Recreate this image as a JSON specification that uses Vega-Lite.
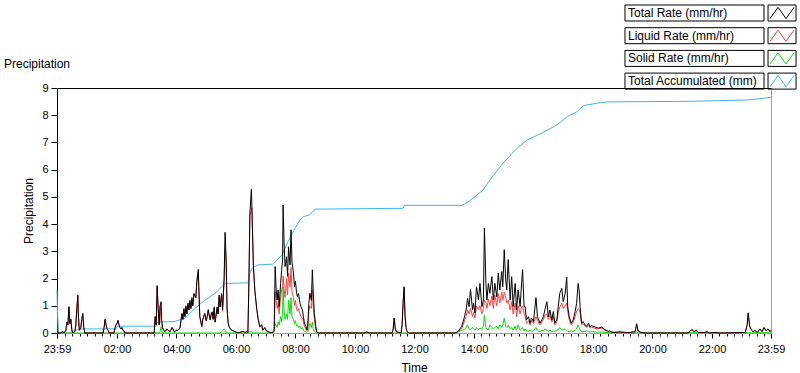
{
 "$schema": "https://vega.github.io/schema/vega-lite/v6.json",
 "width": 714, "height": 245,
 "autosize": {"type": "none"},
 "padding": {"left": 57, "top": 88, "right": 29, "bottom": 40},
 "background": "white",
 "config": {
  "font": "Liberation Sans",
  "view": {"stroke": "#a0a0a0", "strokeWidth": 1},
  "axis": {"grid": false, "labelFont": "Liberation Sans", "titleFont": "Liberation Sans", "labelFontSize": 11, "titleFontSize": 12, "titleFontWeight": "normal", "labelColor": "#000", "titleColor": "#000", "tickColor": "#000", "domainColor": "#000"},
  "legend": {"labelFont": "Liberation Sans", "labelFontSize": 12, "labelColor": "#000"}
 },
 "title": {"text": "Precipitation", "anchor": "start", "frame": "group", "dx": -53, "offset": -66, "fontSize": 12, "fontWeight": "normal", "font": "Liberation Sans", "color": "#000"},
 "datasets": {
  "acc": [
   {"min":0,"acc":1.58},{"min":1,"acc":0.75},{"min":3,"acc":0},{"min":26,"acc":0},{"min":30,"acc":0.05},{"min":43,"acc":0.13},{"min":48,"acc":0.15},{"min":119,"acc":0.15},{"min":121,"acc":0.25},{"min":200,"acc":0.25},{"min":202,"acc":0.4},{"min":236,"acc":0.42},{"min":242,"acc":0.45},{"min":258,"acc":0.54},{"min":278,"acc":0.9},{"min":298,"acc":1.2},{"min":319,"acc":1.46},{"min":339,"acc":1.82},{"min":385,"acc":1.84},{"min":389,"acc":2.2},{"min":393,"acc":2.38},{"min":405,"acc":2.5},{"min":436,"acc":2.53},{"min":454,"acc":2.87},{"min":466,"acc":3.36},{"min":480,"acc":3.85},{"min":490,"acc":4.15},{"min":496,"acc":4.27},{"min":510,"acc":4.34},{"min":520,"acc":4.55},{"min":698,"acc":4.58},{"min":700,"acc":4.69},{"min":817,"acc":4.69},{"min":833,"acc":4.86},{"min":859,"acc":5.25},{"min":873,"acc":5.62},{"min":899,"acc":6.23},{"min":928,"acc":6.79},{"min":948,"acc":7.09},{"min":974,"acc":7.31},{"min":1008,"acc":7.64},{"min":1029,"acc":7.95},{"min":1049,"acc":8.13},{"min":1061,"acc":8.35},{"min":1089,"acc":8.44},{"min":1109,"acc":8.49},{"min":1277,"acc":8.51},{"min":1392,"acc":8.56},{"min":1424,"acc":8.62},{"min":1440,"acc":8.66}
  ],
  "rates": [
   {"min":0,"total":0,"liquid":0,"solid":0},{"min":6,"total":0,"liquid":0,"solid":0},{"min":12,"total":0.05,"liquid":0.05,"solid":0},{"min":14,"total":0,"liquid":0,"solid":0},{"min":18,"total":0.1,"liquid":0.1,"solid":0},{"min":20,"total":0.4,"liquid":0.4,"solid":0},{"min":22,"total":0.3,"liquid":0.3,"solid":0},{"min":24,"total":0.97,"liquid":0.95,"solid":0},{"min":26,"total":0.35,"liquid":0.35,"solid":0},{"min":28,"total":0.5,"liquid":0.5,"solid":0},{"min":30,"total":0.1,"liquid":0.1,"solid":0},{"min":32,"total":0,"liquid":0,"solid":0},{"min":36,"total":0.05,"liquid":0.05,"solid":0},{"min":38,"total":0.3,"liquid":0.3,"solid":0},{"min":40,"total":0.9,"liquid":0.9,"solid":0},{"min":42,"total":1.4,"liquid":1.35,"solid":0.02},{"min":43,"total":0.7,"liquid":0.7,"solid":0},{"min":45,"total":0.1,"liquid":0.1,"solid":0},{"min":48,"total":0.2,"liquid":0.2,"solid":0},{"min":50,"total":0.5,"liquid":0.5,"solid":0},{"min":52,"total":0.72,"liquid":0.7,"solid":0},{"min":54,"total":0.2,"liquid":0.2,"solid":0},{"min":56,"total":0,"liquid":0,"solid":0},
   {"min":93,"total":0,"liquid":0,"solid":0},{"min":95,"total":0.2,"liquid":0.2,"solid":0},{"min":97,"total":0.5,"liquid":0.5,"solid":0},{"min":99,"total":0.3,"liquid":0.3,"solid":0},{"min":101,"total":0.15,"liquid":0.15,"solid":0},{"min":103,"total":0.1,"liquid":0.1,"solid":0},{"min":105,"total":0,"liquid":0,"solid":0},{"min":115,"total":0,"liquid":0,"solid":0},{"min":117,"total":0.2,"liquid":0.2,"solid":0},{"min":119,"total":0.3,"liquid":0.3,"solid":0},{"min":121,"total":0.35,"liquid":0.35,"solid":0},{"min":123,"total":0.47,"liquid":0.45,"solid":0},{"min":125,"total":0.3,"liquid":0.3,"solid":0},{"min":127,"total":0.2,"liquid":0.2,"solid":0},{"min":129,"total":0.15,"liquid":0.15,"solid":0},{"min":131,"total":0.2,"liquid":0.2,"solid":0},{"min":133,"total":0.1,"liquid":0.1,"solid":0},{"min":135,"total":0.08,"liquid":0.08,"solid":0},{"min":137,"total":0,"liquid":0,"solid":0},
   {"min":196,"total":0,"liquid":0,"solid":0},{"min":198,"total":0.6,"liquid":0.6,"solid":0},{"min":200,"total":0.3,"liquid":0.3,"solid":0},{"min":202,"total":1.74,"liquid":1.7,"solid":0.02},{"min":204,"total":0.9,"liquid":0.9,"solid":0},{"min":206,"total":0.3,"liquid":0.3,"solid":0},{"min":208,"total":1.0,"liquid":1.0,"solid":0.05},{"min":210,"total":1.15,"liquid":0.4,"solid":0.23},{"min":211,"total":0.5,"liquid":0.35,"solid":0.1},{"min":213,"total":0.2,"liquid":0.2,"solid":0},{"min":215,"total":0.1,"liquid":0.1,"solid":0},{"min":218,"total":0.05,"liquid":0.05,"solid":0},{"min":222,"total":0.15,"liquid":0.15,"solid":0},{"min":224,"total":0.1,"liquid":0.1,"solid":0},{"min":228,"total":0.05,"liquid":0.05,"solid":0},{"min":232,"total":0.2,"liquid":0.2,"solid":0},{"min":234,"total":0.15,"liquid":0.15,"solid":0},{"min":236,"total":0.05,"liquid":0.05,"solid":0},
   {"min":238,"total":0.05,"liquid":0.05,"solid":0},{"min":240,"total":0.1,"liquid":0.1,"solid":0},{"min":244,"total":0.1,"liquid":0.1,"solid":0},{"min":248,"total":0.18,"liquid":0.18,"solid":0},{"min":250,"total":0.45,"liquid":0.45,"solid":0},{"min":252,"total":0.72,"liquid":0.7,"solid":0},{"min":254,"total":0.5,"liquid":0.5,"solid":0},{"min":256,"total":0.9,"liquid":0.85,"solid":0},{"min":258,"total":0.6,"liquid":0.6,"solid":0},{"min":260,"total":1.0,"liquid":0.95,"solid":0},{"min":262,"total":0.7,"liquid":0.7,"solid":0},{"min":264,"total":1.1,"liquid":1.05,"solid":0},{"min":266,"total":0.85,"liquid":0.85,"solid":0},{"min":268,"total":1.2,"liquid":1.15,"solid":0},{"min":270,"total":0.9,"liquid":0.9,"solid":0},{"min":272,"total":1.3,"liquid":1.25,"solid":0},{"min":274,"total":1.0,"liquid":1.0,"solid":0},{"min":276,"total":1.45,"liquid":1.4,"solid":0},{"min":280,"total":1.3,"liquid":1.3,"solid":0},{"min":282,"total":1.9,"liquid":1.85,"solid":0},{"min":285,"total":2.34,"liquid":2.2,"solid":0.02},{"min":286,"total":1.7,"liquid":1.65,"solid":0},{"min":288,"total":0.6,"liquid":0.6,"solid":0},{"min":292,"total":0.24,"liquid":0.24,"solid":0},{"min":294,"total":0.5,"liquid":0.5,"solid":0},{"min":298,"total":0.72,"liquid":0.7,"solid":0},{"min":301,"total":0.45,"liquid":0.45,"solid":0},{"min":303,"total":0.6,"liquid":0.6,"solid":0},{"min":305,"total":0.86,"liquid":0.8,"solid":0},{"min":309,"total":0.48,"liquid":0.48,"solid":0},{"min":311,"total":0.7,"liquid":0.7,"solid":0},{"min":313,"total":0.78,"liquid":0.75,"solid":0},{"min":315,"total":0.5,"liquid":0.5,"solid":0},{"min":317,"total":0.96,"liquid":0.9,"solid":0},{"min":319,"total":0.4,"liquid":0.4,"solid":0},{"min":323,"total":0.96,"liquid":0.9,"solid":0},{"min":325,"total":0.7,"liquid":0.7,"solid":0},{"min":327,"total":1.39,"liquid":1.3,"solid":0},{"min":329,"total":0.96,"liquid":0.95,"solid":0},{"min":332,"total":1.45,"liquid":1.4,"solid":0.05},{"min":334,"total":0.86,"liquid":0.8,"solid":0.1},{"min":337,"total":2.0,"liquid":1.9,"solid":0.15},{"min":339,"total":3.7,"liquid":3.1,"solid":0.1},{"min":341,"total":2.8,"liquid":2.7,"solid":0.05},{"min":343,"total":0.9,"liquid":0.9,"solid":0},{"min":345,"total":0.4,"liquid":0.4,"solid":0},{"min":347,"total":0.23,"liquid":0.23,"solid":0},{"min":351,"total":0.12,"liquid":0.12,"solid":0},{"min":355,"total":0.08,"liquid":0.08,"solid":0},{"min":359,"total":0.05,"liquid":0.05,"solid":0},{"min":363,"total":0.02,"liquid":0.02,"solid":0},{"min":369,"total":0.02,"liquid":0.02,"solid":0},{"min":375,"total":0.06,"liquid":0.06,"solid":0},{"min":379,"total":0.02,"liquid":0.02,"solid":0},{"min":383,"total":0.05,"liquid":0.05,"solid":0},{"min":385,"total":0.02,"liquid":0.02,"solid":0.02},{"min":387,"total":1.8,"liquid":1.8,"solid":0.03},{"min":389,"total":4.4,"liquid":4.3,"solid":0.05},{"min":392,"total":5.28,"liquid":4.5,"solid":0.05},{"min":393,"total":4.7,"liquid":4.6,"solid":0.03},{"min":396,"total":2.5,"liquid":2.5,"solid":0},{"min":399,"total":1.56,"liquid":1.56,"solid":0},{"min":403,"total":0.86,"liquid":0.86,"solid":0},{"min":406,"total":0.48,"liquid":0.48,"solid":0},{"min":409,"total":0.23,"liquid":0.23,"solid":0},{"min":413,"total":0.3,"liquid":0.3,"solid":0},{"min":415,"total":0.1,"liquid":0.1,"solid":0},{"min":419,"total":0.2,"liquid":0.2,"solid":0},{"min":422,"total":0.08,"liquid":0.08,"solid":0},{"min":426,"total":0.05,"liquid":0.05,"solid":0},{"min":430,"total":0.02,"liquid":0.02,"solid":0},{"min":434,"total":0.02,"liquid":0.02,"solid":0},
   {"min":436,"total":0.05,"liquid":0.05,"solid":0},{"min":438,"total":0.1,"liquid":0.05,"solid":0.05},{"min":440,"total":2.44,"liquid":1.5,"solid":0.35},{"min":442,"total":1.58,"liquid":1.2,"solid":0.25},{"min":444,"total":1.21,"liquid":0.9,"solid":0.2},{"min":446,"total":1.58,"liquid":1.1,"solid":0.4},{"min":448,"total":0.97,"liquid":0.7,"solid":0.3},{"min":451,"total":1.82,"liquid":1.3,"solid":0.6},{"min":453,"total":2.3,"liquid":1.6,"solid":0.4},{"min":455,"total":2.68,"liquid":1.7,"solid":0.9},{"min":456,"total":4.7,"liquid":2.1,"solid":1.7},{"min":458,"total":3.3,"liquid":1.6,"solid":0.8},{"min":460,"total":2.44,"liquid":1.3,"solid":0.5},{"min":463,"total":2.8,"liquid":2.0,"solid":0.7},{"min":465,"total":2.08,"liquid":1.4,"solid":0.5},{"min":467,"total":3.17,"liquid":2.2,"solid":1.2},{"min":470,"total":2.5,"liquid":1.7,"solid":0.7},{"min":472,"total":3.79,"liquid":2.4,"solid":1.3},{"min":474,"total":2.6,"liquid":1.5,"solid":0.6},{"min":477,"total":2.2,"liquid":1.3,"solid":0.5},{"min":479,"total":1.7,"liquid":1.0,"solid":0.35},{"min":481,"total":1.9,"liquid":1.2,"solid":0.45},{"min":483,"total":1.5,"liquid":0.9,"solid":0.25},{"min":485,"total":1.33,"liquid":0.8,"solid":0.3},{"min":487,"total":1.45,"liquid":0.9,"solid":0.2},{"min":490,"total":1.1,"liquid":0.7,"solid":0.25},{"min":492,"total":0.97,"liquid":0.6,"solid":0.15},{"min":495,"total":0.85,"liquid":0.55,"solid":0.2},{"min":497,"total":0.6,"liquid":0.4,"solid":0.1},{"min":499,"total":0.36,"liquid":0.25,"solid":0.05},{"min":502,"total":0.24,"liquid":0.15,"solid":0.05},{"min":504,"total":0.12,"liquid":0.08,"solid":0.02},{"min":506,"total":0.36,"liquid":0.25,"solid":0.05},{"min":508,"total":1.09,"liquid":0.8,"solid":0.2},{"min":510,"total":1.46,"liquid":1.0,"solid":0.35},{"min":513,"total":1.2,"liquid":0.9,"solid":0.2},{"min":515,"total":2.32,"liquid":1.6,"solid":0.4},{"min":517,"total":1.4,"liquid":0.9,"solid":0.15},{"min":519,"total":0.72,"liquid":0.5,"solid":0.05},{"min":522,"total":0.24,"liquid":0.15,"solid":0.02},{"min":524,"total":0.05,"liquid":0.03,"solid":0},{"min":526,"total":0,"liquid":0,"solid":0},
   {"min":620,"total":0,"liquid":0,"solid":0},{"min":625,"total":0.04,"liquid":0.04,"solid":0},{"min":629,"total":0,"liquid":0,"solid":0},{"min":676,"total":0,"liquid":0,"solid":0},{"min":678,"total":0.15,"liquid":0.15,"solid":0},{"min":680,"total":0.55,"liquid":0.55,"solid":0},{"min":682,"total":0.2,"liquid":0.2,"solid":0},{"min":684,"total":0.05,"liquid":0.05,"solid":0},{"min":694,"total":0,"liquid":0,"solid":0},{"min":696,"total":0.3,"liquid":0.3,"solid":0},{"min":698,"total":1.1,"liquid":1.1,"solid":0},{"min":700,"total":1.7,"liquid":1.65,"solid":0},{"min":702,"total":0.6,"liquid":0.6,"solid":0},{"min":704,"total":0.2,"liquid":0.2,"solid":0},{"min":706,"total":0.05,"liquid":0.05,"solid":0},{"min":710,"total":0,"liquid":0,"solid":0},{"min":803,"total":0,"liquid":0,"solid":0},
   {"min":809,"total":0.06,"liquid":0.05,"solid":0.03},{"min":816,"total":0.24,"liquid":0.15,"solid":0.1},{"min":821,"total":0.54,"liquid":0.4,"solid":0.12},{"min":825,"total":0.85,"liquid":0.6,"solid":0.2},{"min":828,"total":1.27,"liquid":0.85,"solid":0.3},{"min":831,"total":0.97,"liquid":0.7,"solid":0.15},{"min":834,"total":1.6,"liquid":0.9,"solid":0.12},{"min":838,"total":0.85,"liquid":0.6,"solid":0.2},{"min":840,"total":1.09,"liquid":0.75,"solid":0.15},{"min":843,"total":0.73,"liquid":0.55,"solid":0.1},{"min":846,"total":1.7,"liquid":1.0,"solid":0.2},{"min":850,"total":1.21,"liquid":0.85,"solid":0.12},{"min":853,"total":1.82,"liquid":1.0,"solid":0.18},{"min":857,"total":0.97,"liquid":0.7,"solid":0.15},{"min":860,"total":1.21,"liquid":0.9,"solid":0.25},{"min":862,"total":3.86,"liquid":1.2,"solid":0.67},{"min":865,"total":1.82,"liquid":1.1,"solid":0.2},{"min":867,"total":1.21,"liquid":0.9,"solid":0.15},{"min":870,"total":1.82,"liquid":1.25,"solid":0.12},{"min":873,"total":1.46,"liquid":1.0,"solid":0.3},{"min":877,"total":2.07,"liquid":1.35,"solid":0.2},{"min":880,"total":1.21,"liquid":0.9,"solid":0.15},{"min":883,"total":1.82,"liquid":1.4,"solid":0.2},{"min":887,"total":1.33,"liquid":1.0,"solid":0.25},{"min":890,"total":2.2,"liquid":1.45,"solid":0.15},{"min":893,"total":1.58,"liquid":1.1,"solid":0.3},{"min":897,"total":2.26,"liquid":1.5,"solid":0.2},{"min":899,"total":1.7,"liquid":1.2,"solid":0.3},{"min":902,"total":3.06,"liquid":1.5,"solid":0.54},{"min":905,"total":1.95,"liquid":1.3,"solid":0.25},{"min":907,"total":1.58,"liquid":1.1,"solid":0.2},{"min":910,"total":2.7,"liquid":1.2,"solid":0.3},{"min":914,"total":1.21,"liquid":0.85,"solid":0.15},{"min":917,"total":2.07,"liquid":1.15,"solid":0.2},{"min":920,"total":0.97,"liquid":0.7,"solid":0.1},{"min":924,"total":1.82,"liquid":1.1,"solid":0.25},{"min":927,"total":0.85,"liquid":0.6,"solid":0.1},{"min":930,"total":1.58,"liquid":1.0,"solid":0.3},{"min":934,"total":0.97,"liquid":0.7,"solid":0.1},{"min":937,"total":1.82,"liquid":0.95,"solid":0.15},{"min":939,"total":2.33,"liquid":1.0,"solid":0.2},{"min":942,"total":0.97,"liquid":0.7,"solid":0.08},{"min":944,"total":0.97,"liquid":0.6,"solid":0.15},{"min":947,"total":0.48,"liquid":0.35,"solid":0.08},{"min":951,"total":0.6,"liquid":0.45,"solid":0.06},{"min":954,"total":0.36,"liquid":0.3,"solid":0.1},{"min":957,"total":0.55,"liquid":0.45,"solid":0.05},{"min":961,"total":0.42,"liquid":0.35,"solid":0.08},{"min":966,"total":1.3,"liquid":0.6,"solid":0.2},{"min":969,"total":0.6,"liquid":0.45,"solid":0.08},{"min":974,"total":0.36,"liquid":0.3,"solid":0.05},{"min":978,"total":0.48,"liquid":0.4,"solid":0.1},{"min":981,"total":0.6,"liquid":0.5,"solid":0.08},{"min":984,"total":0.85,"liquid":0.65,"solid":0.15},{"min":988,"total":1.15,"liquid":0.7,"solid":0.1},{"min":991,"total":0.6,"liquid":0.5,"solid":0.06},{"min":994,"total":0.85,"liquid":0.65,"solid":0.1},{"min":998,"total":0.48,"liquid":0.4,"solid":0.05},{"min":1001,"total":0.79,"liquid":0.6,"solid":0.08},{"min":1004,"total":0.36,"liquid":0.3,"solid":0.06},{"min":1008,"total":0.48,"liquid":0.4,"solid":0.1},{"min":1011,"total":0.97,"liquid":0.75,"solid":0.12},{"min":1014,"total":1.46,"liquid":0.95,"solid":0.2},{"min":1018,"total":1.64,"liquid":1.1,"solid":0.1},{"min":1021,"total":1.15,"liquid":0.9,"solid":0.12},{"min":1025,"total":1.46,"liquid":1.0,"solid":0.15},{"min":1028,"total":2.05,"liquid":1.1,"solid":0.1},{"min":1030,"total":0.97,"liquid":0.8,"solid":0.06},{"min":1033,"total":0.6,"liquid":0.5,"solid":0.05},{"min":1037,"total":0.36,"liquid":0.3,"solid":0.08},{"min":1041,"total":0.48,"liquid":0.4,"solid":0.05},{"min":1045,"total":0.79,"liquid":0.6,"solid":0.1},{"min":1048,"total":1.09,"liquid":0.8,"solid":0.15},{"min":1051,"total":1.82,"liquid":0.9,"solid":0.3},{"min":1053,"total":1.58,"liquid":0.85,"solid":0.2},{"min":1055,"total":0.97,"liquid":0.75,"solid":0.12},{"min":1058,"total":0.36,"liquid":0.3,"solid":0.05},{"min":1061,"total":0.42,"liquid":0.35,"solid":0.06},{"min":1065,"total":0.3,"liquid":0.25,"solid":0.05},{"min":1068,"total":0.24,"liquid":0.2,"solid":0.08},{"min":1072,"total":0.36,"liquid":0.28,"solid":0.06},{"min":1075,"total":0.22,"liquid":0.18,"solid":0.04},{"min":1078,"total":0.27,"liquid":0.22,"solid":0.05},{"min":1085,"total":0.22,"liquid":0.17,"solid":0.04},{"min":1092,"total":0.18,"liquid":0.15,"solid":0.03},{"min":1099,"total":0.22,"liquid":0.18,"solid":0.04},{"min":1105,"total":0.12,"liquid":0.1,"solid":0.02},{"min":1112,"total":0.06,"liquid":0.05,"solid":0.01},{"min":1115,"total":0.08,"liquid":0.06,"solid":0.02},
   {"min":1119,"total":0.03,"liquid":0.03,"solid":0},{"min":1125,"total":0.02,"liquid":0.02,"solid":0.02},{"min":1135,"total":0.04,"liquid":0.04,"solid":0},{"min":1146,"total":0.02,"liquid":0.02,"solid":0},{"min":1156,"total":0.02,"liquid":0.02,"solid":0},{"min":1166,"total":0.05,"liquid":0.05,"solid":0},{"min":1169,"total":0.34,"liquid":0.3,"solid":0.04},{"min":1172,"total":0.08,"liquid":0.08,"solid":0},{"min":1176,"total":0.03,"liquid":0.03,"solid":0},{"min":1186,"total":0,"liquid":0,"solid":0},{"min":1273,"total":0,"liquid":0,"solid":0},{"min":1277,"total":0.08,"liquid":0.08,"solid":0.02},{"min":1281,"total":0.12,"liquid":0.12,"solid":0.03},{"min":1285,"total":0.05,"liquid":0.05,"solid":0},{"min":1289,"total":0.1,"liquid":0.1,"solid":0.02},{"min":1293,"total":0.02,"liquid":0.02,"solid":0},{"min":1307,"total":0.02,"liquid":0.02,"solid":0},{"min":1311,"total":0.05,"liquid":0.05,"solid":0.02},{"min":1315,"total":0,"liquid":0,"solid":0},{"min":1327,"total":0.02,"liquid":0.02,"solid":0},{"min":1337,"total":0,"liquid":0,"solid":0},{"min":1388,"total":0.02,"liquid":0.02,"solid":0},{"min":1392,"total":0.3,"liquid":0.3,"solid":0.02},{"min":1394,"total":0.74,"liquid":0.7,"solid":0.03},{"min":1397,"total":0.25,"liquid":0.25,"solid":0.02},{"min":1400,"total":0.12,"liquid":0.12,"solid":0},{"min":1404,"total":0.05,"liquid":0.05,"solid":0},{"min":1408,"total":0.1,"liquid":0.1,"solid":0.02},{"min":1412,"total":0.02,"liquid":0.02,"solid":0},{"min":1418,"total":0.15,"liquid":0.15,"solid":0.02},{"min":1422,"total":0.05,"liquid":0.05,"solid":0},{"min":1426,"total":0.2,"liquid":0.2,"solid":0.03},{"min":1430,"total":0.08,"liquid":0.08,"solid":0},{"min":1434,"total":0.15,"liquid":0.15,"solid":0.02},{"min":1438,"total":0.05,"liquid":0.05,"solid":0},{"min":1440,"total":0.1,"liquid":0.1,"solid":0}
  ]
 },
 "resolve": {"axis": {"x": "independent"}},
 "layer": [
  {
   "data": {"name": "acc"},
   "mark": {"type": "line", "strokeWidth": 1},
   "encoding": {
    "x": {"field": "min", "type": "quantitative", "scale": {"domain": [0, 1440], "nice": false},
          "axis": {"title": "Time", "values": [0,1,16,31,46,61,76,91,106,121,136,151,166,181,196,211,226,241,256,271,286,301,316,331,346,361,376,391,406,421,436,451,466,481,496,511,526,541,556,571,586,601,616,631,646,661,676,691,706,721,736,751,766,781,796,811,826,841,856,871,886,901,916,931,946,961,976,991,1006,1021,1036,1051,1066,1081,1096,1111,1126,1141,1156,1171,1186,1201,1216,1231,1246,1261,1276,1291,1306,1321,1336,1351,1366,1381,1396,1411,1426,1440],
            "labelExpr": "datum.value == 0 || datum.value == 1440 ? '23:59' : ((datum.value - 1) % 120 == 0 && datum.value > 1) ? format((datum.value - 1) / 60, '02d') + ':00' : ''",
            "tickSize": {"condition": {"test": "datum.value == 0 || datum.value == 1440 || (datum.value - 1) % 120 == 0", "value": 5}, "value": 3},
            "labelPadding": 5, "domainColor": "#a0a0a0", "titlePadding": 8, "labelFlush": false, "labelOverlap": false}},
    "y": {"field": "acc", "type": "quantitative", "scale": {"domain": [0, 9], "nice": false}, "axis": {"title": "Precipitation", "values": [0,1,2,3,4,5,6,7,8,9], "tickSize": 6, "labelPadding": 3, "titlePadding": 6}},
    "color": {"datum": "Total Accumulated (mm)", "type": "nominal",
      "scale": {"domain": ["Total Rate (mm/hr)", "Liquid Rate (mm/hr)", "Solid Rate (mm/hr)", "Total Accumulated (mm)"], "range": ["#000000", "#ff4040", "#00dd00", "#3cb4f0"]},
      "legend": {"orient": "none", "legendX": 567, "legendY": -83.5, "title": null, "padding": 0, "rowPadding": 1.7,
        "symbolType": "M-10.69,-1M10.69,1M7.44,0.7L8.44,-0.7L9.44,0.7L10.44,-0.7", "symbolSize": 256, "symbolStrokeWidth": 1, "symbolFillColor": "transparent", "symbolOffset": 78, "labelOffset": -91, "labelLimit": 300}},
    "opacity": {"datum": "acc", "type": "nominal",
      "scale": {"domain": ["total", "liquid", "solid", "acc"], "range": [1, 1, 1, 1]},
      "legend": {"orient": "none", "legendX": 567, "legendY": -83.5, "title": null, "padding": 0, "rowPadding": 1.7,
        "symbolType": "M-10.69,-1H6.69V1H-10.69ZM7.19,-1H10.69V1H7.19Z", "symbolSize": 256, "symbolStrokeWidth": 1, "symbolStrokeColor": "#000000", "symbolFillColor": "transparent", "symbolOffset": 78, "labelExpr": "''"}}
   }
  },
  {
   "data": {"name": "rates"},
   "mark": {"type": "line", "strokeWidth": 1},
   "encoding": {
    "x": {"field": "min", "type": "quantitative", "axis": null},
    "y": {"field": "solid", "type": "quantitative", "axis": {"title": "Precipitation", "values": [0,1,2,3,4,5,6,7,8,9], "tickSize": 6, "labelPadding": 3, "titlePadding": 6}},
    "color": {"datum": "Solid Rate (mm/hr)", "type": "nominal"}
   }
  },
  {
   "data": {"name": "rates"},
   "mark": {"type": "line", "strokeWidth": 1},
   "encoding": {
    "x": {"field": "min", "type": "quantitative", "axis": null},
    "y": {"field": "liquid", "type": "quantitative", "axis": {"title": "Precipitation", "values": [0,1,2,3,4,5,6,7,8,9], "tickSize": 6, "labelPadding": 3, "titlePadding": 6}},
    "color": {"datum": "Liquid Rate (mm/hr)", "type": "nominal"}
   }
  },
  {
   "data": {"name": "rates"},
   "mark": {"type": "line", "strokeWidth": 1},
   "encoding": {
    "x": {"field": "min", "type": "quantitative", "axis": {"orient": "top", "title": null, "labels": false, "ticks": false, "domainColor": "#000000"}},
    "y": {"field": "total", "type": "quantitative", "axis": {"title": "Precipitation", "values": [0,1,2,3,4,5,6,7,8,9], "tickSize": 6, "labelPadding": 3, "titlePadding": 6}},
    "color": {"datum": "Total Rate (mm/hr)", "type": "nominal"}
   }
  }
 ]
}
